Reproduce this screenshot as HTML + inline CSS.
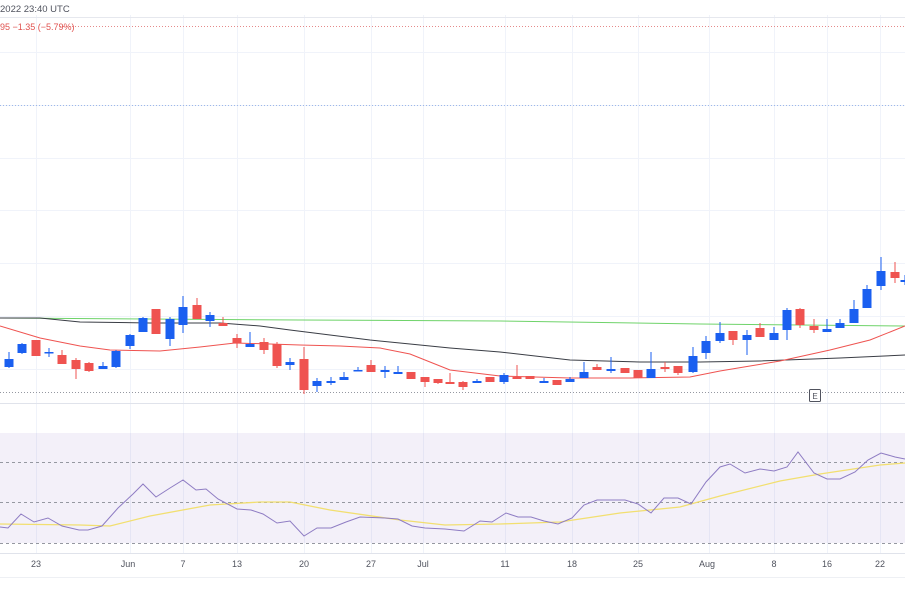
<!DOCTYPE html>
<html><head><meta charset="utf-8"><style>
html,body{margin:0;padding:0;background:#fff;width:905px;height:597px;overflow:hidden}
svg{display:block;font-family:"Liberation Sans",sans-serif}
</style></head><body>
<svg id="s" width="905" height="597" viewBox="0 0 905 597" xmlns="http://www.w3.org/2000/svg">
<g stroke="#f0f3fa" stroke-width="1">
<line x1="0" y1="52.5" x2="905" y2="52.5"/><line x1="0" y1="105.5" x2="905" y2="105.5"/><line x1="0" y1="158.5" x2="905" y2="158.5"/><line x1="0" y1="210.5" x2="905" y2="210.5"/><line x1="0" y1="263.5" x2="905" y2="263.5"/><line x1="0" y1="316.5" x2="905" y2="316.5"/><line x1="0" y1="369.5" x2="905" y2="369.5"/>
<line x1="36.5" y1="15" x2="36.5" y2="553"/><line x1="130.5" y1="15" x2="130.5" y2="553"/><line x1="183.5" y1="15" x2="183.5" y2="553"/><line x1="237.5" y1="15" x2="237.5" y2="553"/><line x1="304.5" y1="15" x2="304.5" y2="553"/><line x1="371.5" y1="15" x2="371.5" y2="553"/><line x1="423.5" y1="15" x2="423.5" y2="553"/><line x1="505.5" y1="15" x2="505.5" y2="553"/><line x1="572.5" y1="15" x2="572.5" y2="553"/><line x1="638.5" y1="15" x2="638.5" y2="553"/><line x1="709.5" y1="15" x2="709.5" y2="553"/><line x1="774.5" y1="15" x2="774.5" y2="553"/><line x1="827.5" y1="15" x2="827.5" y2="553"/><line x1="880.5" y1="15" x2="880.5" y2="553"/>
</g>
<line x1="0" y1="17.5" x2="905" y2="17.5" stroke="#e6e8ee"/>
<line x1="60" y1="26.5" x2="905" y2="26.5" stroke="#e58a8a" stroke-dasharray="1,2"/>
<line x1="0" y1="105.5" x2="905" y2="105.5" stroke="#9db8ea" stroke-dasharray="1,2"/>
<line x1="0" y1="392.5" x2="905" y2="392.5" stroke="#9598a1" stroke-dasharray="1,2"/>
<line x1="0" y1="403.5" x2="905" y2="403.5" stroke="#e0e3eb"/>
<text x="0" y="12" font-size="9.5" fill="#50535e">2022 23:40 UTC</text>
<text x="0" y="30" font-size="9" fill="#e0524f">95  −1.35 (−5.79%)</text>
<rect x="0" y="433" width="905" height="110" fill="#7e57c2" fill-opacity="0.09"/>
<g stroke="#9598a1" stroke-dasharray="3,3"><line x1="0" y1="462.5" x2="905" y2="462.5"/><line x1="0" y1="502.5" x2="905" y2="502.5"/><line x1="0" y1="543.5" x2="905" y2="543.5"/></g>
<line x1="0" y1="553.5" x2="905" y2="553.5" stroke="#e0e3eb"/>
<line x1="0" y1="577.5" x2="905" y2="577.5" stroke="#eef0f4"/>
<g font-size="9" fill="#50535e" text-anchor="middle">
<text x="36" y="567">23</text><text x="128" y="567">Jun</text><text x="183" y="567">7</text><text x="237" y="567">13</text><text x="304" y="567">20</text><text x="371" y="567">27</text><text x="423" y="567">Jul</text><text x="505" y="567">11</text><text x="572" y="567">18</text><text x="638" y="567">25</text><text x="707" y="567">Aug</text><text x="774" y="567">8</text><text x="827" y="567">16</text><text x="880" y="567">22</text>
</g>
<rect x="809.5" y="389.5" width="11" height="12" fill="#fff" stroke="#50535e" rx="1"/>
<text x="815" y="399" font-size="8" fill="#50535e" text-anchor="middle">E</text>
<g id="lines" fill="none"></g>
<g id="c"></g>
</svg>
<script>
var ns="http://www.w3.org/2000/svg";
function pl(pts,col,w,par){var e=document.createElementNS(ns,"polyline");e.setAttribute("points",pts.map(p=>p.join(",")).join(" "));e.setAttribute("stroke",col);e.setAttribute("stroke-width",w);e.setAttribute("fill","none");document.getElementById(par).appendChild(e);}
pl([[0,318],[150,319],[300,320],[500,321],[700,324],[905,326]],"#6fd36a",1,"lines");
pl([[0,318],[40,318],[80,322],[150,323],[220,323],[260,326],[290,330],[330,335],[370,340],[410,344],[450,348],[500,352],[570,360],[640,362],[700,362],[760,361],[840,358],[905,355]],"#3a3d45",1,"lines");
pl([[0,326],[40,338],[80,346],[110,350],[160,351],[200,347],[235,343],[270,344],[300,345],[340,346],[380,348],[410,354],[430,362],[450,370],[500,376],[570,378],[630,378],[690,377],[720,371],[750,366],[780,361],[830,350],[870,340],[905,326]],"#ef5350",1,"lines");
pl([[0,524],[80,525],[110,526],[150,516],[210,505],[260,502],[290,502],[330,510],[400,520],[445,525],[500,524],[560,522],[620,513],[680,507],[720,496],[780,481],[820,474],[860,468],[880,465],[905,463]],"#f2df70",1.3,"lines");
pl([[0,527],[8,528],[21,514],[34,522],[48,518],[62,526],[79,530],[88,530],[102,526],[118,508],[133,494],[143,484],[156,497],[170,488],[183,480],[196,490],[206,489],[218,499],[237,509],[251,510],[263,514],[277,523],[290,521],[304,536],[317,528],[331,528],[346,522],[360,517],[385,518],[398,519],[412,526],[425,528],[445,529],[464,531],[480,521],[492,522],[506,513],[518,517],[531,517],[544,521],[558,524],[572,518],[584,505],[597,500],[611,500],[625,500],[638,504],[651,513],[664,498],[678,498],[691,504],[706,482],[720,467],[730,464],[745,473],[760,469],[774,471],[787,467],[798,452],[814,473],[827,479],[840,479],[855,472],[868,460],[881,453],[895,457],[905,459]],"#8e7cc3",1,"lines");
var C=[[9,1,359,367,352,368],[22,1,344,353,343,354],[36,0,340,356,340,356],[49,1,352,353,348,357],[62,0,355,364,350,364],[76,0,360,369,358,379],[89,0,363,371,362,372],[103,1,366,369,362,369],[116,1,351,367,350,368],[130,1,335,346,334,349],[143,1,318,332,317,332],[156,0,309,334,309,334],[170,1,319,339,317,346],[183,1,307,325,296,333],[197,0,305,319,298,319],[210,1,315,321,312,327],[223,0,323,326,317,326],[237,0,338,343,334,348],[250,1,344,347,332,347],[264,0,342,350,338,354],[277,0,344,366,342,368],[290,1,362,365,358,370],[304,0,359,390,347,394],[317,1,381,386,378,392],[331,1,381,383,377,385],[344,1,377,380,372,380],[358,1,370,371,367,371],[371,0,365,372,360,372],[385,1,370,372,366,378],[398,1,372,374,366,374],[411,0,372,379,372,379],[425,0,377,382,377,387],[438,0,379,383,379,384],[450,0,382,384,373,384],[463,0,382,387,381,390],[477,1,381,383,379,383],[490,0,377,382,377,382],[504,1,375,382,373,384],[517,0,377,379,365,379],[530,0,376,379,376,379],[544,1,381,383,378,383],[557,0,380,385,380,385],[570,1,379,382,377,382],[584,1,372,378,362,378],[597,0,367,370,364,370],[611,1,369,371,357,373],[625,0,368,373,368,373],[638,0,370,378,370,378],[651,1,369,378,352,378],[665,0,367,369,362,372],[678,0,366,373,366,375],[693,1,356,372,347,373],[706,1,341,353,336,359],[720,1,333,341,322,343],[733,0,331,340,331,345],[747,1,335,340,330,355],[760,0,328,337,323,337],[774,1,333,340,327,340],[787,1,310,330,308,340],[800,0,309,325,308,328],[814,0,326,330,319,333],[827,1,329,332,319,332],[840,1,323,328,319,328],[854,1,309,323,300,323],[867,1,289,308,285,308],[881,1,271,286,257,290],[895,0,272,278,262,283],[905,1,280,282,275,285]];
var g=document.getElementById("c");
C.forEach(function(c){var col=c[1]?"#1a5ff0":"#ef5350";
var l=document.createElementNS(ns,"line");l.setAttribute("x1",c[0]);l.setAttribute("x2",c[0]);l.setAttribute("y1",c[4]);l.setAttribute("y2",c[5]);l.setAttribute("stroke",col);l.setAttribute("stroke-width",1);g.appendChild(l);
var r=document.createElementNS(ns,"rect");r.setAttribute("x",c[0]-4.5);r.setAttribute("width",9);r.setAttribute("y",c[2]);r.setAttribute("height",Math.max(1.5,c[3]-c[2]));r.setAttribute("fill",col);g.appendChild(r);});
</script>
</body></html>
